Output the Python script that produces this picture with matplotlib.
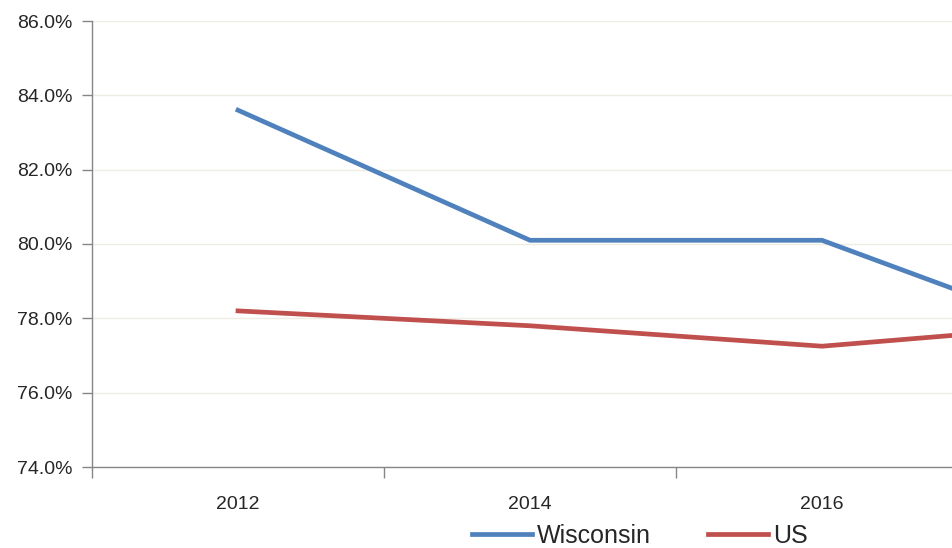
import matplotlib
matplotlib.use("Agg")
import matplotlib.pyplot as plt
from matplotlib.ticker import FixedLocator, FuncFormatter

plt.rcParams['font.family'] = ['Liberation Sans', 'DejaVu Sans']

years = ["2012", "2014", "2016", "2018"]
wisconsin = [83.6, 80.1, 80.1, 77.2]
us = [78.2, 77.8, 77.25, 77.9]
y_ticks = [74, 76, 78, 80, 82, 84, 86]

fig = plt.figure(figsize=(9.52, 5.48), dpi=100)
# plot area runs past the right edge of the canvas
ax = fig.add_axes([92 / 952, 81 / 548, 1168 / 952, 446 / 548])

x = list(range(len(years)))
ax.plot(x, wisconsin, color="#4F81BD", lw=3.4, label="Wisconsin", solid_joinstyle="round")
ax.plot(x, us, color="#C0504D", lw=3.4, label="US", solid_joinstyle="round")

ax.set_xlim(-0.5, len(years) - 0.5)
ax.set_ylim(74, 86)
ax.yaxis.set_major_locator(FixedLocator(y_ticks))
ax.yaxis.set_major_formatter(FuncFormatter(lambda v, p: f"{v:.1f}%"))
ax.grid(axis="y", color="#EDEDE3", lw=1.0)
ax.set_axisbelow(True)

ax.set_xticks(x)
ax.set_xticklabels(years)
ax.set_xticks([i - 0.5 for i in range(len(years) + 1)], minor=True)
ax.tick_params(axis="x", which="major", length=0, pad=21, labelsize=14)
ax.tick_params(axis="x", which="minor", length=8, color="#868686", width=1)
ax.tick_params(axis="y", length=7, color="#868686", width=1, labelsize=14, pad=7)
for lab in ax.get_xticklabels() + ax.get_yticklabels():
    lab.set_color("#262626")
# the last category sits beyond the canvas edge
ax.get_xticklabels()[-1].set_visible(False)

for s in ("top", "right"):
    ax.spines[s].set_visible(False)
for s in ("left", "bottom"):
    ax.spines[s].set_color("#868686")
    ax.spines[s].set_linewidth(1)

leg = fig.legend(loc="center", bbox_to_anchor=(640 / 952, 1 - 536 / 548), ncol=2, frameon=False,
                 fontsize=18, handlelength=2.4, handletextpad=0.2, columnspacing=2.3)
for t in leg.get_texts():
    t.set_color("#262626")

fig.savefig("out.png", dpi=100)
